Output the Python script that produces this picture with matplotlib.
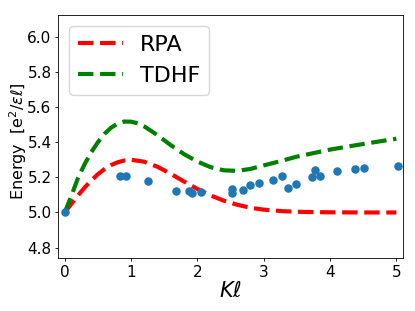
import matplotlib
matplotlib.use("Agg")
import matplotlib.pyplot as plt

# curvas teóricas
k_curve = [0, 0.1, 0.2, 0.3, 0.4, 0.5, 0.6, 0.7, 0.8, 0.9, 1.0, 1.2, 1.4, 1.6,
           1.8, 2.0, 2.2, 2.4, 2.6, 2.8, 3.0, 3.3, 3.6, 4.0, 4.5, 5.0]
rpa = [5.0, 5.049, 5.097, 5.142, 5.182, 5.218, 5.247, 5.270, 5.286, 5.296,
       5.300, 5.289, 5.260, 5.220, 5.176, 5.134, 5.097, 5.067, 5.044, 5.027,
       5.016, 5.007, 5.003, 5.001, 5.0, 5.0]

k_tdhf = [0, 0.1, 0.2, 0.3, 0.4, 0.5, 0.6, 0.7, 0.8, 0.9, 1.0, 1.1, 1.2, 1.4,
          1.6, 1.8, 2.0, 2.2, 2.4, 2.6, 2.8, 3.0, 3.25, 3.5, 3.75, 4.0, 4.25,
          4.5, 4.75, 5.0]
tdhf = [5.0, 5.095, 5.196, 5.275, 5.343, 5.400, 5.448, 5.483, 5.507, 5.518,
        5.517, 5.508, 5.490, 5.440, 5.383, 5.332, 5.290, 5.258, 5.240, 5.237,
        5.248, 5.268, 5.292, 5.318, 5.338, 5.358, 5.374, 5.390, 5.405, 5.420]

# puntos numéricos
k_pts = [0.0, 0.84, 0.93, 1.26, 1.68, 1.87, 1.92, 2.06, 2.52, 2.52, 2.69, 2.80,
         2.93, 3.14, 3.27, 3.36, 3.49, 3.73, 3.77, 3.845, 4.10, 4.37, 4.51, 5.02]
e_pts = [5.003, 5.21, 5.21, 5.18, 5.125, 5.12, 5.11, 5.115, 5.136, 5.11, 5.13,
         5.157, 5.17, 5.186, 5.205, 5.142, 5.165, 5.20, 5.24, 5.21, 5.237, 5.25,
         5.256, 5.265]

fig = plt.figure(figsize=(4.15, 3.11), dpi=100)
ax = fig.add_axes([0.14, 0.17, 0.831, 0.782])

ax.plot(k_curve, rpa, '--', color='red', lw=3, label='RPA')
ax.plot(k_tdhf, tdhf, '--', color='green', lw=3, label='TDHF')
ax.scatter(k_pts, e_pts, s=26, color='tab:blue', zorder=3)

ax.set_xlim(-0.1, 5.1)
ax.set_ylim(4.74, 6.125)
ax.set_yticks([4.8, 5.0, 5.2, 5.4, 5.6, 5.8, 6.0])
ax.set_xticks([0, 1, 2, 3, 4, 5])
ax.tick_params(labelsize=11, length=2.5, pad=2.2, width=0.6)
for s in ax.spines.values():
    s.set_linewidth(0.6)
ax.set_xlabel(r'$K\ell$', fontsize=15, labelpad=1)
ax.set_ylabel(r'Energy  [e$^2/\epsilon\ell$]', fontsize=11.5)
ax.yaxis.set_label_coords(-0.085, 0.48)
ax.legend(loc='upper left', fontsize=16)

plt.savefig("out.png", dpi=100)
